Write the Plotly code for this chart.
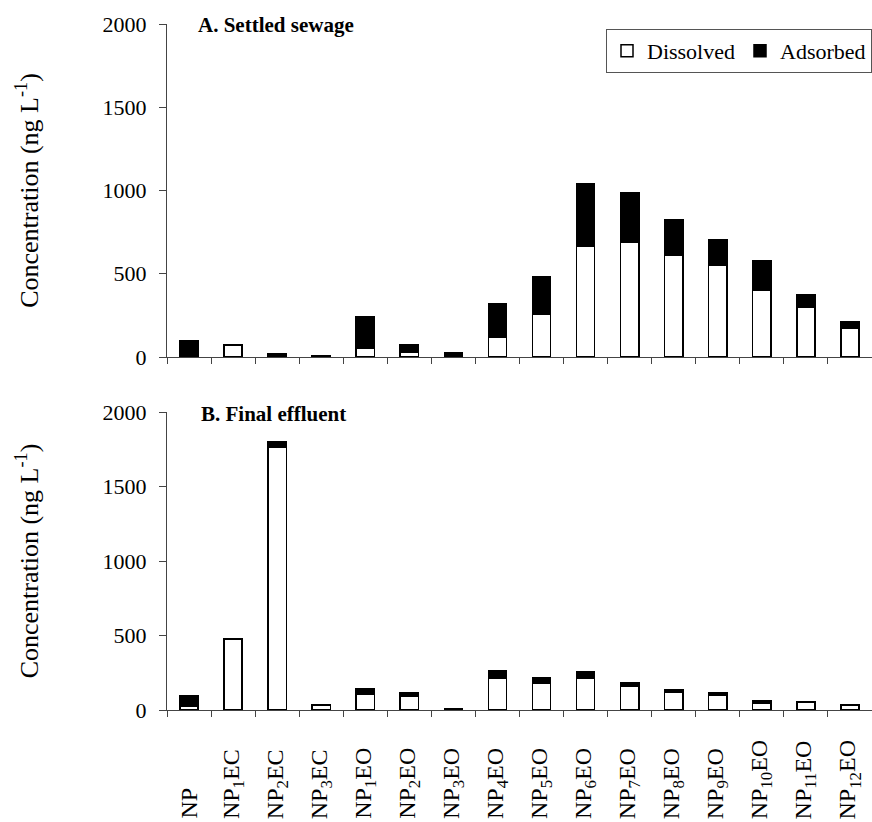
import plotly.graph_objects as go

categories = ["NP", "NP1EC", "NP2EC", "NP3EC", "NP1EO", "NP2EO", "NP3EO", "NP4EO",
              "NP5EO", "NP6EO", "NP7EO", "NP8EO", "NP9EO", "NP10EO", "NP11EO", "NP12EO"]
tick_labels = ["NP", "NP<sub>1</sub>EC", "NP<sub>2</sub>EC", "NP<sub>3</sub>EC",
               "NP<sub>1</sub>EO", "NP<sub>2</sub>EO", "NP<sub>3</sub>EO", "NP<sub>4</sub>EO",
               "NP<sub>5</sub>EO", "NP<sub>6</sub>EO", "NP<sub>7</sub>EO", "NP<sub>8</sub>EO",
               "NP<sub>9</sub>EO", "NP<sub>10</sub>EO", "NP<sub>11</sub>EO", "NP<sub>12</sub>EO"]

sewage_dissolved = [10, 68, 0, 0, 52, 28, 0, 120, 254, 666, 692, 614, 550, 402, 300, 172]
sewage_adsorbed = [90, 8, 20, 8, 188, 48, 24, 202, 230, 372, 292, 208, 156, 176, 72, 38]

effluent_dissolved = [25, 476, 1765, 35, 103, 95, 0, 210, 182, 216, 157, 117, 97, 47, 52, 30]
effluent_adsorbed = [70, 5, 38, 3, 38, 24, 10, 56, 32, 42, 27, 20, 20, 18, 5, 4]

FONT = "Liberation Serif"
W, H = 872, 822
ML, MR, MT, MB = 167, 0, 24, 112
PH = H - MT - MB


def py(pix):
    return (H - MB - pix) / PH


def px(pix):
    return (pix - ML) / (W - ML - MR)


white = dict(color="white", line=dict(color="black", width=1.5))
black = dict(color="black", line=dict(color="black", width=1.5))

fig = go.Figure()
fig.add_bar(x=categories, y=sewage_dissolved, name="Dissolved", marker=white,
            xaxis="x", yaxis="y", showlegend=True)
fig.add_bar(x=categories, y=sewage_adsorbed, name="Adsorbed", marker=black,
            xaxis="x", yaxis="y", showlegend=True)
fig.add_bar(x=categories, y=effluent_dissolved, name="Dissolved", marker=white,
            xaxis="x2", yaxis="y2", showlegend=False)
fig.add_bar(x=categories, y=effluent_adsorbed, name="Adsorbed", marker=black,
            xaxis="x2", yaxis="y2", showlegend=False)

axcol = "#444"
xcommon = dict(type="category", categoryorder="array", categoryarray=categories,
               range=[-0.5, 15.5], showline=True, linecolor=axcol, linewidth=1,
               ticks="outside", tickson="boundaries", ticklen=6, tickcolor=axcol,
               showticklabels=False, showgrid=False, zeroline=False, domain=[0, 1])
ycommon = dict(range=[0, 2000], tickvals=[0, 500, 1000, 1500, 2000],
               showline=True, linecolor=axcol, linewidth=1, ticks="outside",
               ticklen=7, tickcolor=axcol, showgrid=False, zeroline=False,
               ticklabelstandoff=8,
               tickfont=dict(family=FONT, size=22, color="black"),
               title=dict(text="Concentration (ng L<sup>-1</sup>)",
                          font=dict(family=FONT, size=26, color="black"),
                          standoff=56))

fig.update_layout(
    width=W, height=H,
    margin=dict(l=ML, r=MR, t=MT, b=MB),
    paper_bgcolor="white", plot_bgcolor="white",
    barmode="stack", bargap=0.585,
    font=dict(family=FONT, color="black"),
    xaxis=dict(xcommon, anchor="y"),
    yaxis=dict(ycommon, domain=[py(357), 1.0], anchor="x"),
    xaxis2=dict(xcommon, anchor="y2"),
    yaxis2=dict(ycommon, domain=[0, py(412)], anchor="x2"),
    legend=dict(orientation="h", x=1.0, xanchor="right", y=py(29), yanchor="top",
                bordercolor="#555", borderwidth=1, bgcolor="white",
                font=dict(family=FONT, size=22, color="black"),
                traceorder="normal", itemwidth=30),
)

annotations = [
    dict(text="<b>A. Settled sewage</b>", x=px(196), y=py(25), xref="paper", yref="paper",
         xanchor="left", yanchor="middle", showarrow=False,
         font=dict(family=FONT, size=21, color="black")),
    dict(text="<b>B. Final effluent</b>", x=px(199), y=py(414), xref="paper", yref="paper",
         xanchor="left", yanchor="middle", showarrow=False,
         font=dict(family=FONT, size=21, color="black")),
]
for cat, lab in zip(categories, tick_labels):
    annotations.append(dict(text=lab, x=cat, xref="x2", y=py(821), yref="paper",
                            xanchor="center", yanchor="bottom", textangle=-90,
                            showarrow=False,
                            font=dict(family=FONT, size=24, color="black")))
fig.update_layout(annotations=annotations)

fig.write_html("out.html", config={"displayModeBar": False},
               post_script="document.body.style.margin='0';document.body.style.overflow='hidden';")
